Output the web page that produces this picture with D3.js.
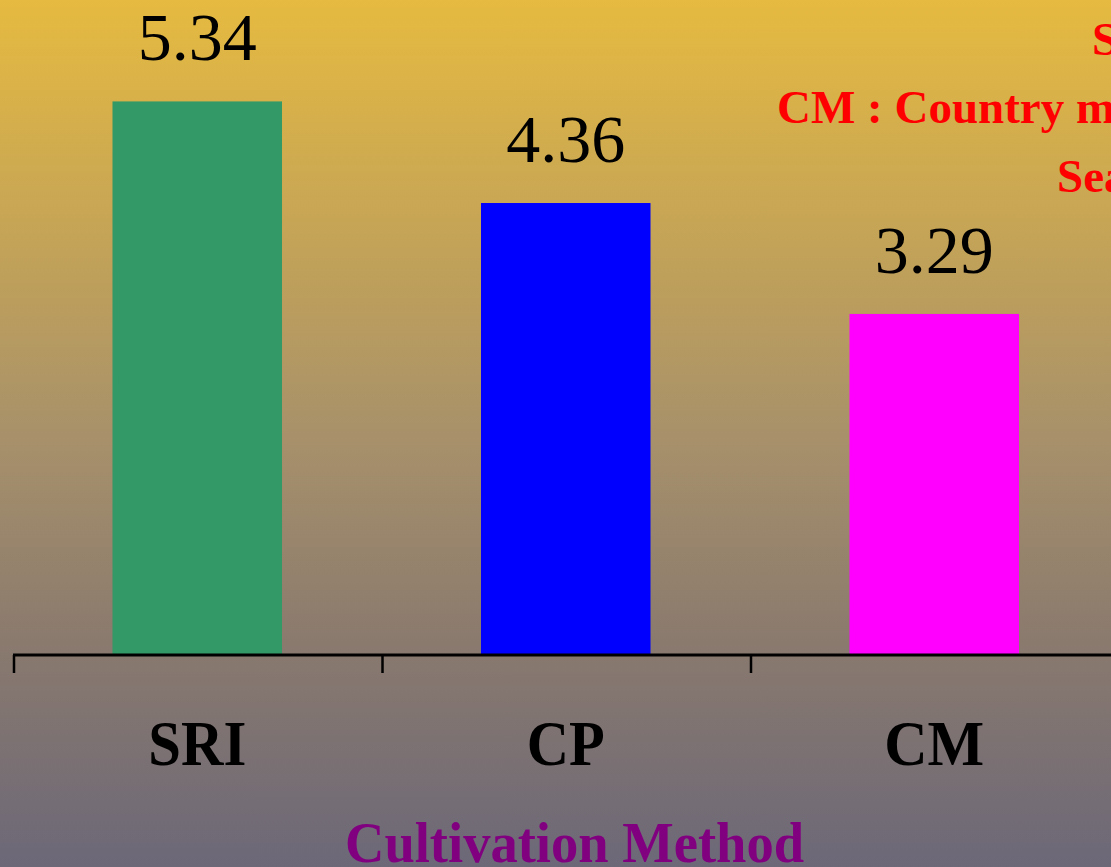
<!DOCTYPE html>
<html><head><meta charset="utf-8">
<script src="https://cdn.jsdelivr.net/npm/d3@7"></script>
<style>html,body{margin:0;padding:0;overflow:hidden;background:#888}</style>
</head><body>
<script>
const categories = ["SRI", "CP", "CM"];
const values = [5.34, 4.36, 3.29];
const valueLabels = ["5.34", "4.36", "3.29"];
const barColors = ["#339966", "#0000FF", "#FF00FF"];
const noteLines = ["SRI : System of Rice Intensification", "CM : Country method", "Season : Kharif"];
const xTitle = "Cultivation Method";

const W = 1111, H = 867;
const svg = d3.select("body").append("svg").attr("width", W).attr("height", H);
const defs = svg.append("defs");
const g = defs.append("linearGradient").attr("id","bg").attr("x1",0).attr("y1",0).attr("x2",0).attr("y2",1);
g.append("stop").attr("offset","0").attr("stop-color","#E6BA40");
g.append("stop").attr("offset","0.5").attr("stop-color","#A8916A");
g.append("stop").attr("offset","0.74").attr("stop-color","#8A7A6E");
g.append("stop").attr("offset","1").attr("stop-color","#6C6878");
svg.append("rect").attr("width",W).attr("height",H).attr("fill","url(#bg)");

const x = d3.scaleBand().domain(categories).range([14, 14 + 3*368.5]).padding(0);
const y = d3.scaleLinear().domain([0, 6]).range([655, 33]);
const bw = x.bandwidth()*0.46;

svg.selectAll("rect.bar").data(values).join("rect").attr("class","bar")
  .attr("x",(d,i)=>x(categories[i]) + x.bandwidth()/2 - bw/2 - 1)
  .attr("y",d=>y(d)).attr("width",bw).attr("height",d=>y(0)-y(d))
  .attr("fill",(d,i)=>barColors[i]);

svg.selectAll("text.val").data(values).join("text").attr("class","val")
  .attr("x",(d,i)=>x(categories[i]) + x.bandwidth()/2 - 1)
  .attr("y",d=>y(d)-41).attr("text-anchor","middle")
  .attr("font-family","Liberation Serif, Times New Roman, serif").attr("font-size",68)
  .attr("fill","#000").text((d,i)=>valueLabels[i]);

const axis = d3.axisBottom(x).tickSize(0).tickFormat("");
const ax = svg.append("g").attr("transform","translate(0,655)").call(axis);
ax.select(".domain").attr("stroke","#000").attr("stroke-width",3).attr("d","M13,0H1111");
// boundary ticks between categories
const bounds = categories.map(c=>x(c));
ax.selectAll("line.bt").data(bounds).join("line").attr("class","bt")
  .attr("x1",d=>d).attr("x2",d=>d).attr("y1",0).attr("y2",18)
  .attr("stroke","#000").attr("stroke-width",2.5);

svg.selectAll("text.cat").data(categories).join("text").attr("class","cat")
  .attr("x",d=>x(d)+x.bandwidth()/2 - 1).attr("y",765).attr("text-anchor","middle")
  .attr("font-family","Liberation Serif, Times New Roman, serif").attr("font-weight","bold")
  .attr("font-size",64).attr("fill","#000")
  .attr("textLength",(d,i)=>[98,78,100][i]).attr("lengthAdjust","spacingAndGlyphs")
  .text(d=>d);

svg.append("text").attr("x",574.5).attr("y",862).attr("text-anchor","middle")
  .attr("font-family","Liberation Serif, Times New Roman, serif").attr("font-weight","bold")
  .attr("font-size",57).attr("fill","#800080")
  .attr("textLength",459).attr("lengthAdjust","spacingAndGlyphs").text(xTitle);

const noteX = [1092, 777, 1057], noteY = [55, 123, 192];
svg.selectAll("text.note").data(noteLines).join("text").attr("class","note")
  .attr("x",(d,i)=>noteX[i]).attr("y",(d,i)=>noteY[i])
  .attr("font-family","Liberation Serif, Times New Roman, serif").attr("font-weight","bold")
  .attr("font-size",47).attr("fill","#FF0000").text(d=>d);
</script>
</body></html>
